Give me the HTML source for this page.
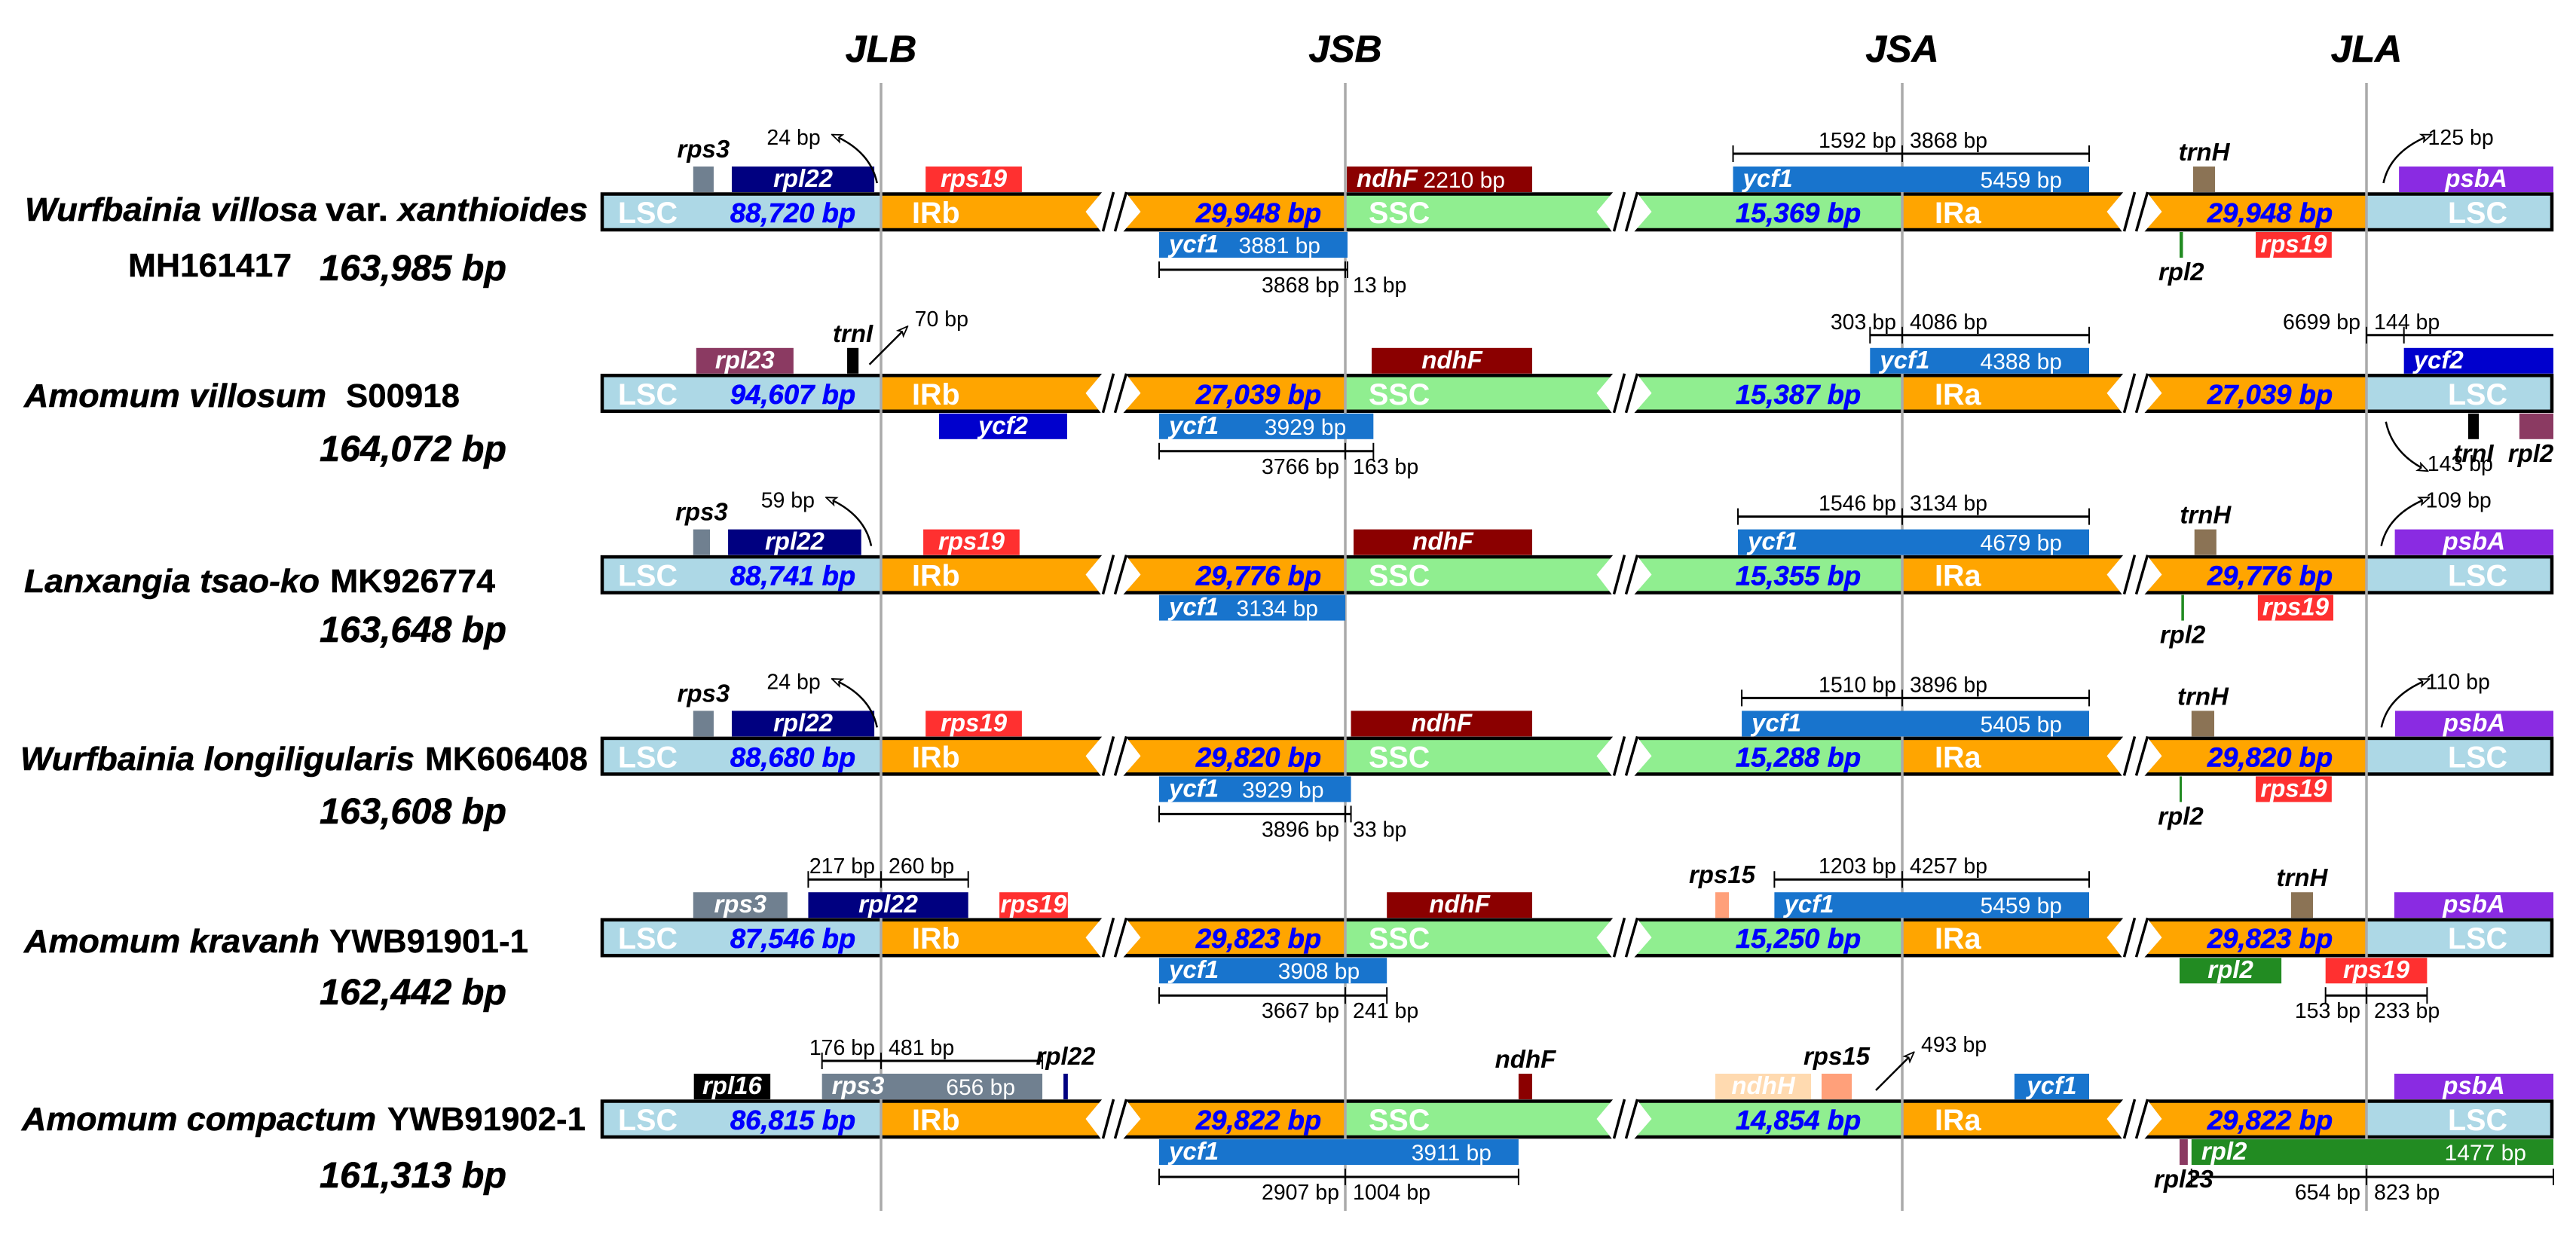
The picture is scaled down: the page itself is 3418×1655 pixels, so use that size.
<!DOCTYPE html>
<html lang="en">
<head>
<meta charset="utf-8">
<title>Chloroplast genome junction comparison</title>
<style>
  html, body { margin: 0; padding: 0; background: #fff; }
  svg { display: block; font-family: "Liberation Sans", Arial, sans-serif; }
  .sp { font-size: 44px; font-weight: bold; font-style: italic; fill: #000; stroke: #000; stroke-width: 0.6px; }
  .acc { font-size: 44px; font-weight: bold; fill: #000; stroke: #000; stroke-width: 0.4px; }
  .gs { font-size: 48px; font-weight: bold; font-style: italic; fill: #000; stroke: #000; stroke-width: 0.6px; }
  .jn { font-size: 50px; font-weight: bold; font-style: italic; fill: #000; text-anchor: middle; stroke: #000; stroke-width: 0.6px; }
  .blue-len { stroke: #0000ff; stroke-width: 0.6px; }
</style>
</head>
<body>
<svg id="chart" xmlns="http://www.w3.org/2000/svg" width="3418" height="1655" viewBox="0 0 3418 1655">
  <defs>
    <marker id="head" markerUnits="userSpaceOnUse" markerWidth="16" markerHeight="14" refX="14" refY="7" orient="auto">
      <path d="M2,2 L15,7 L2,12 L5,7 Z" fill="#fff" stroke="#000" stroke-width="1.8"/>
    </marker>
  </defs>
  <rect width="3418" height="1655" fill="#fff"/>

  <text class="jn" x="1169" y="82">JLB</text>
  <text class="jn" x="1785" y="82">JSB</text>
  <text class="jn" x="2524" y="82">JSA</text>
  <text class="jn" x="3140" y="82">JLA</text>

  <g>
    <text class="sp" x="33" y="293" textLength="388" lengthAdjust="spacingAndGlyphs">Wurfbainia villosa</text>
    <text class="acc" x="432" y="293" textLength="83" lengthAdjust="spacingAndGlyphs">var.</text>
    <text class="sp" x="528" y="293" textLength="252" lengthAdjust="spacingAndGlyphs">xanthioides</text>
    <text class="acc" x="170" y="367" textLength="217" lengthAdjust="spacingAndGlyphs">MH161417</text>
    <text class="gs" x="424" y="372" textLength="248" lengthAdjust="spacingAndGlyphs">163,985 bp</text>

    <text class="sp" x="32" y="540" textLength="401" lengthAdjust="spacingAndGlyphs">Amomum villosum</text>
    <text class="acc" x="459" y="540" textLength="151" lengthAdjust="spacingAndGlyphs">S00918</text>
    <text class="gs" x="424" y="612" textLength="248" lengthAdjust="spacingAndGlyphs">164,072 bp</text>

    <text class="sp" x="32" y="786" textLength="392" lengthAdjust="spacingAndGlyphs">Lanxangia tsao-ko</text>
    <text class="acc" x="438" y="786" textLength="219" lengthAdjust="spacingAndGlyphs">MK926774</text>
    <text class="gs" x="424" y="852" textLength="248" lengthAdjust="spacingAndGlyphs">163,648 bp</text>

    <text class="sp" x="27" y="1022" textLength="523" lengthAdjust="spacingAndGlyphs">Wurfbainia longiligularis</text>
    <text class="acc" x="564" y="1022" textLength="216" lengthAdjust="spacingAndGlyphs">MK606408</text>
    <text class="gs" x="424" y="1093" textLength="248" lengthAdjust="spacingAndGlyphs">163,608 bp</text>

    <text class="sp" x="32" y="1264" textLength="392" lengthAdjust="spacingAndGlyphs">Amomum kravanh</text>
    <text class="acc" x="437" y="1264" textLength="264" lengthAdjust="spacingAndGlyphs">YWB91901-1</text>
    <text class="gs" x="424" y="1333" textLength="248" lengthAdjust="spacingAndGlyphs">162,442 bp</text>

    <text class="sp" x="29" y="1500" textLength="470" lengthAdjust="spacingAndGlyphs">Amomum compactum</text>
    <text class="acc" x="514" y="1500" textLength="263" lengthAdjust="spacingAndGlyphs">YWB91902-1</text>
    <text class="gs" x="424" y="1576" textLength="248" lengthAdjust="spacingAndGlyphs">161,313 bp</text>
  </g>
</svg>

<script>
// ---- Data: region lengths (bp), one value per genome ----
const regionLSC = [88720, 94607, 88741, 88680, 87546, 86815];
const regionIR  = [29948, 27039, 29776, 29820, 29823, 29822];
const regionSSC = [15369, 15387, 15355, 15288, 15250, 14854];

// ---- Data: genes as [name, track, junction index, start bp, end bp, label kind, printed size]
// start/end are bp offsets from the junction (negative = upstream).
const genesRow1 = [
  ['rps3','above',0,-560,-499,'out'],
  ['rpl22','above',0,-445,-20,'in'],
  ['rps19','above',0,133,420,'in'],
  ['ndhF','above',1,9,2210,'left',2210],
  ['ycf1','above',2,-1592,3868,'left',5459],
  ['trnH','above',3,-648,-566,'out'],
  ['psbA','above',3,125,1062,'in'],
  ['ycf1','below',1,-3868,13,'left',3881],
  ['rpl2','below',3,-1800,-686,'out'],
  ['rps19','below',3,-414,-130,'in']
];
const genesRow2 = [
  ['rpl23','above',0,-551,-261,'in'],
  ['trnI','above',0,-101,-67,'out'],
  ['ndhF','above',1,153,2210,'in'],
  ['ycf1','above',2,-303,4086,'left',4388],
  ['ycf2','above',3,144,6699,'left'],
  ['ycf2','below',0,173,555,'in'],
  ['ycf1','below',1,-3766,163,'left',3929],
  ['trnI','below',3,391,432,'out'],
  ['rpl2','below',3,588,1000,'out']
];
const genesRow3 = [
  ['rps3','above',0,-560,-510,'out'],
  ['rpl22','above',0,-456,-59,'in'],
  ['rps19','above',0,126,413,'in'],
  ['ndhF','above',1,48,2210,'in'],
  ['ycf1','above',2,-1546,3134,'left',4679],
  ['trnH','above',3,-643,-561,'out'],
  ['psbA','above',3,109,1062,'in'],
  ['ycf1','below',1,-3134,0,'left',3134],
  ['rpl2','below',3,-692,-682,'out'],
  ['rps19','below',3,-406,-124,'in']
];
const genesRow4 = [
  ['rps3','above',0,-560,-499,'out'],
  ['rpl22','above',0,-445,-20,'in'],
  ['rps19','above',0,133,420,'in'],
  ['ndhF','above',1,33,2210,'in'],
  ['ycf1','above',2,-1510,3896,'left',5405],
  ['trnH','above',3,-654,-569,'out'],
  ['psbA','above',3,110,1062,'in'],
  ['ycf1','below',1,-3896,33,'left',3929],
  ['rpl2','below',3,-1800,-690,'out'],
  ['rps19','below',3,-414,-130,'in']
];
const genesRow5 = [
  ['rps3','above',0,-560,-279,'in'],
  ['rpl22','above',0,-217,260,'in'],
  ['rps19','above',0,353,557,'in'],
  ['ndhF','above',1,241,2210,'in'],
  ['rps15','above',2,-1760,-1631,'out'],
  ['ycf1','above',2,-1203,4257,'left',5459],
  ['trnH','above',3,-282,-200,'out'],
  ['psbA','above',3,107,1062,'in'],
  ['ycf1','below',1,-3667,241,'left',3908],
  ['rpl2','below',3,-1800,-318,'in'],
  ['rps19','below',3,-153,233,'in']
];
const genesRow6 = [
  ['rpl16','above',0,-558,-330,'in'],
  ['rps3','above',0,-176,481,'left',656],
  ['rpl22','above',0,544,557,'out'],
  ['ndhF','above',1,1004,2210,'out'],
  ['ndhH','above',2,-2100,-858,'in'],
  ['rps15','above',2,-759,-475,'out'],
  ['ycf1','above',2,493,5459,'in'],
  ['psbA','above',3,107,1062,'in'],
  ['ycf1','below',1,-2907,1004,'left',3911],
  ['rpl23','below',3,-1800,-668,'out'],
  ['rpl2','below',3,-654,823,'left',1477]
];
const genesByRow = [genesRow1, genesRow2, genesRow3, genesRow4, genesRow5, genesRow6];

// ---- Data: span brackets as [junction, track, left bp, right bp, wrap flag]
const bracketsRow1 = [[2,'above',1592,3868],[1,'below',3868,13]];
const bracketsRow2 = [[2,'above',303,4086],[3,'above',6699,144,true],[1,'below',3766,163]];
const bracketsRow3 = [[2,'above',1546,3134]];
const bracketsRow4 = [[2,'above',1510,3896],[1,'below',3896,33]];
const bracketsRow5 = [[0,'above',217,260],[2,'above',1203,4257],[1,'below',3667,241],[3,'below',153,233]];
const bracketsRow6 = [[0,'above',176,481],[1,'below',2907,1004],[3,'below',654,823]];
const bracketsByRow = [bracketsRow1, bracketsRow2, bracketsRow3, bracketsRow4, bracketsRow5, bracketsRow6];

// ---- Data: distance callouts as [junction, bp, kind]
const calloutsRow1 = [[0,24,'curve'],[3,125,'curve']];
const calloutsRow2 = [[0,70,'straight'],[3,143,'down']];
const calloutsRow3 = [[0,59,'curve'],[3,109,'curve']];
const calloutsRow4 = [[0,24,'curve'],[3,110,'curve']];
const calloutsRow5 = [];
const calloutsRow6 = [[2,493,'straight']];
const calloutsByRow = [calloutsRow1, calloutsRow2, calloutsRow3, calloutsRow4, calloutsRow5, calloutsRow6];

// ---- Gene colours, looked up by name ----
const geneColor = {
  rps3:'#708090', rpl22:'#000080', rps19:'#ff3030', ndhF:'#8b0000', ycf1:'#1874cd',
  trnH:'#8b7355', psbA:'#8a2be2', rpl2:'#228b22', rpl23:'#8b3a62', trnI:'#000000',
  ycf2:'#0000cd', rpl16:'#000000', rps15:'#ffa07a', ndhH:'#ffdab0'
};

// ---- Axes ----
const barLeft = 797, barRight = 3388;
const junctions = [1169, 1785, 2524, 3140];
const slopeLeft  = [0.445, 0.229, 0.141, 0.355];
const slopeRight = [0.445, 0.229, 0.302, 0.345];
const limitLeft  = [372, 247, 248, 248];
const limitRight = [310, 248, 248, 248];
const breaks = [1477, 2155, 2832];

function xAt(j, bp) {
  const d = bp < 0 ? Math.max(-limitLeft[j], bp * slopeLeft[j]) : Math.min(limitRight[j], bp * slopeRight[j]);
  return junctions[j] + d;
}
function rowTop(i) { return 255 + i * 240.8; }

const svg = document.getElementById('chart');
const NS = 'http://www.w3.org/2000/svg';
function mk(tag, attrs, parent) {
  const el = document.createElementNS(NS, tag);
  for (const k in attrs) el.setAttribute(k, attrs[k]);
  (parent || svg).appendChild(el);
  return el;
}
function txt(str, x, y, size, fill, weight, style, anchor, parent) {
  const el = mk('text', {x: x, y: y, 'font-size': size, fill: fill, 'font-weight': weight, 'font-style': style, 'text-anchor': anchor}, parent);
  el.textContent = str;
  return el;
}
const fmt = n => n.toLocaleString('en-US');

// ---- Bars ----
const barFills = ['#add8e6', '#ffa500', '#ffa500', '#90ee90', '#90ee90', '#ffa500', '#ffa500', '#add8e6'];
const barNames = ['lsc-left', 'irb', 'irb-end', 'ssc-start', 'ssc-end', 'ira', 'ira-end', 'lsc-right'];

for (let i = 0; i < 6; i++) {
  const t = rowTop(i);
  const edges = [barLeft, junctions[0], breaks[0], junctions[1], breaks[1], junctions[2], breaks[2], junctions[3], barRight];
  const g = mk('g', {});
  
  
  for (let s = 0; s < 8; s++) {
    const r = mk('rect', {x: edges[s], y: t + 2, width: edges[s + 1] - edges[s], height: 48, fill: barFills[s]}, g);
    
    
  }
  const outline = mk('rect', {x: barLeft + 2, y: t + 2.5, width: barRight - barLeft - 4, height: 47.5, fill: 'none', stroke: '#000', 'stroke-width': 4.5}, g);
  
  

  breaks.forEach(function (c, b) {
    const gap = mk('polygon', {points: [[c - 36.5, t + 26], [c - 13, t - 2], [c + 15, t - 2], [c + 36.5, t + 26], [c + 12, t + 54], [c - 15, t + 54]].map(p => p.join(',')).join(' '), fill: '#fff'}, g);
    
    
    const s1 = mk('line', {x1: c + 0.5, y1: t, x2: c - 13.5, y2: t + 52, stroke: '#000', 'stroke-width': 3.5}, g);
    
    
    const s2 = mk('line', {x1: c + 17.5, y1: t, x2: c + 2.5, y2: t + 52, stroke: '#000', 'stroke-width': 3.5}, g);
    
    
  });

  const regionText = [['LSC', 820], ['IRb', 1210], ['SSC', 1816], ['IRa', 2567], ['LSC', 3248]];
  regionText.forEach(function (r) {
    const el = txt(r[0], r[1], t + 41, 39.5, '#fff', 'bold', 'normal', 'start', g);
    
    
  });

  const lengths = [[regionLSC[i], 1052], [regionIR[i], 1670], [regionSSC[i], 2386], [regionIR[i], 3012]];
  lengths.forEach(function (l) {
    const el = txt(fmt(l[0]) + ' bp', l[1], t + 40, 36.5, '#0000ff', 'bold', 'italic', 'middle', g);
    el.setAttribute('class', 'blue-len');
    
    
  });
}

// ---- Junction lines ----
junctions.forEach(function (jx, j) {
  const l = mk('line', {x1: jx, y1: 110, x2: jx, y2: 1607, stroke: '#aaaaaa', 'stroke-width': 3.5});
  
  
});

// ---- Genes ----
genesByRow.forEach(function (genes, i) {
  const t = rowTop(i);
  genes.forEach(function (g) {
    const name = g[0], above = g[1] === 'above', x0 = xAt(g[2], g[3]), x1 = xAt(g[2], g[4]);
    const kind = g[5], size = g[6];
    const top = above ? t - 34 : t + 53;
    const fill = (i === 1 && name === 'rpl2') ? geneColor.rpl23 : geneColor[name];
    const box = mk('rect', {x: x0, y: top, width: x1 - x0, height: 34, fill: fill});
    
    
    const cx = (x0 + x1) / 2;
    let label;
    if (kind === 'in') {
      label = txt(name, cx, top + 27, 33, '#fff', 'bold', 'italic', 'middle');
    } else if (kind === 'left') {
      label = txt(name, x0 + 13, top + 27, 33, '#fff', 'bold', 'italic', 'start');
      if (size) {
        const sz = txt(size + ' bp', x1 - 36, top + 28, 30, '#fff', 'normal', 'normal', 'end');
        
        
      }
    } else {
      const hasDrop = name.indexOf('p') >= 0;
      const y = above ? t - (hasDrop ? 46 : 42) : t + 117;
      label = txt(name, Math.min(cx, 3358), y, 33, '#000', 'bold', 'italic', 'middle');
    }
    
    
  });
});

// ---- Brackets ----
bracketsByRow.forEach(function (list, i) {
  const t = rowTop(i);
  list.forEach(function (b) {
    const j = b[0], above = b[1] === 'above', wrap = b[4];
    const y = above ? t - 51 : t + 103;
    const labelY = above ? t - 59 : t + 133;
    const jx = junctions[j];
    const ticks = wrap ? [jx, xAt(j, b[3])] : [xAt(j, -b[2]), jx, xAt(j, b[3])];
    const lineStart = wrap ? jx : ticks[0];
    const lineEnd = wrap ? xAt(j, b[2]) : ticks[2];
    const g = mk('g', {});
    
    
    const line = mk('line', {x1: lineStart, y1: y, x2: lineEnd, y2: y, stroke: '#000', 'stroke-width': 3}, g);
    
    
    ticks.forEach(function (tx) {
      const tick = mk('line', {x1: tx, y1: y - 11, x2: tx, y2: y + 11, stroke: '#000', 'stroke-width': 2}, g);
      
      
    });
    const left = txt(b[2] + ' bp', jx - 8, labelY, 28.5, '#000', 'normal', 'normal', 'end', g);
    
    
    const right = txt(b[3] + ' bp', jx + 10, labelY, 28.5, '#000', 'normal', 'normal', 'start', g);
    
    
  });
});

// ---- Callouts ----
const calloutLean = [-0.22, 0, -0.071, 0.18];
calloutsByRow.forEach(function (list, i) {
  const t = rowTop(i);
  list.forEach(function (c) {
    const j = c[0], bp = c[1], kind = c[2];
    const dir = j === 3 ? 1 : -1;
    const sx = junctions[j] + calloutLean[j] * bp;
    let d, ex, ey, lx, ly;
    if (kind === 'straight') {
      ex = sx + 50; ey = t - 12 - 50;
      d = 'M' + sx + ',' + (t - 12) + ' L' + ex + ',' + ey;
      lx = ex + 10; ly = ey - 1;
    } else if (kind === 'down') {
      ex = sx + 55; ey = t + 129;
      d = 'M' + sx + ',' + (t + 64) + ' Q' + (sx + 9) + ',' + (t + 107) + ' ' + ex + ',' + ey;
      lx = ex; ly = ey;
    } else {
      ex = sx + (dir > 0 ? 63 : -59); ey = t - 76;
      d = 'M' + sx + ',' + (t - 12) + ' Q' + (sx + dir * 9) + ',' + (t - 55) + ' ' + ex + ',' + ey;
      lx = dir > 0 ? ex - 4 : ex - 16; ly = t - 63;
    }
    const g = mk('g', {});
    
    
    const path = mk('path', {d: d, fill: 'none', stroke: '#000', 'stroke-width': 2.5, 'marker-end': 'url(#head)'}, g);
    
    
    const anchor = (kind === 'curve' && dir < 0) ? 'end' : 'start';
    const label = txt(bp + ' bp', lx, ly, 28.5, '#000', 'normal', 'normal', anchor, g);
    
    
  });
});
</script>
</body>
</html>
